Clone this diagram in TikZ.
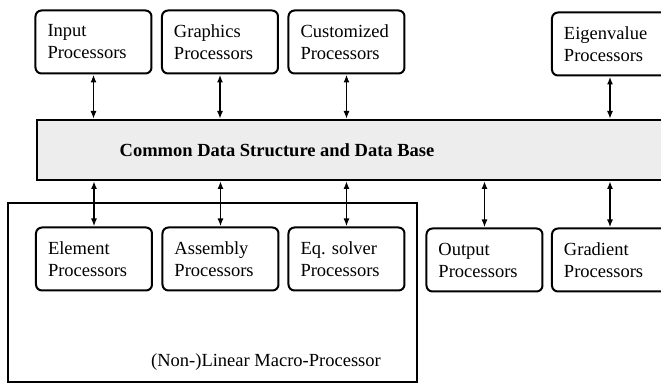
\documentclass[tikz,border=0pt]{standalone}
\usepackage{fontspec}
\setmainfont{Liberation Serif}
\usetikzlibrary{arrows.meta,positioning,calc}

\begin{document}
\begin{tikzpicture}[
  x=0.5pt,y=-0.5pt,
  font=\fontsize{9.25}{11}\selectfont,
  >={Latex[length=4pt,width=3pt]},
  proc/.style={draw=black,rounded corners=3pt,line width=1pt,minimum width=58pt,minimum height=31.5pt,text width=46pt,inner xsep=6pt,align=left},
  link/.style={<->,line width=0.9pt}
]
  \useasboundingbox (0,0) rectangle (661,383);

  % macro-processor frame
  \draw[line width=0.75pt] (8,203) rectangle (417,382);
  \node (macro) at (266,362) {(Non-)Linear Macro-Processor};

  % data base band
  \node[draw=black,line width=1pt,fill=black!7,minimum width=332pt,minimum height=30pt,anchor=west,inner sep=0pt] (band) at (36,150) {};
  \node[font=\fontsize{9.25}{11}\selectfont\bfseries] (bandtxt) at (277,150) {Common Data Structure and Data Base};

  \node[proc] (inp) at (93.5,42) {Input\\Processors};
  \node[proc] (gra) at (220,42) {Graphics\\Processors};
  \node[proc] (cus) at (346.5,42) {Customized\\Processors};
  \node[proc] (eig) at (610,44) {Eigenvalue\\Processors};

  \node[proc] (ele) at (94,259) {Element\\Processors};
  \node[proc] (ass) at (220.5,259) {Assembly\\Processors};
  \node[proc] (eqs) at (346.5,259) {Eq.\ solver\\Processors};
  \node[proc] (out) at (484.5,260) {Output\\Processors};
  \node[proc] (gdt) at (610,260) {Gradient\\Processors};

  \draw[link] (inp.south) -- (inp.south |- band.north);
  \draw[link] (gra.south) -- (gra.south |- band.north);
  \draw[link] (cus.south) -- (cus.south |- band.north);
  \draw[link] (eig.south) -- (eig.south |- band.north);

  \draw[link] (ele.north |- band.south) -- (ele.north);
  \draw[link] (ass.north |- band.south) -- (ass.north);
  \draw[link] (eqs.north |- band.south) -- (eqs.north);
  \draw[link] (out.north |- band.south) -- (out.north);
  \draw[link] (gdt.north |- band.south) -- (gdt.north);
\end{tikzpicture}
\end{document}
